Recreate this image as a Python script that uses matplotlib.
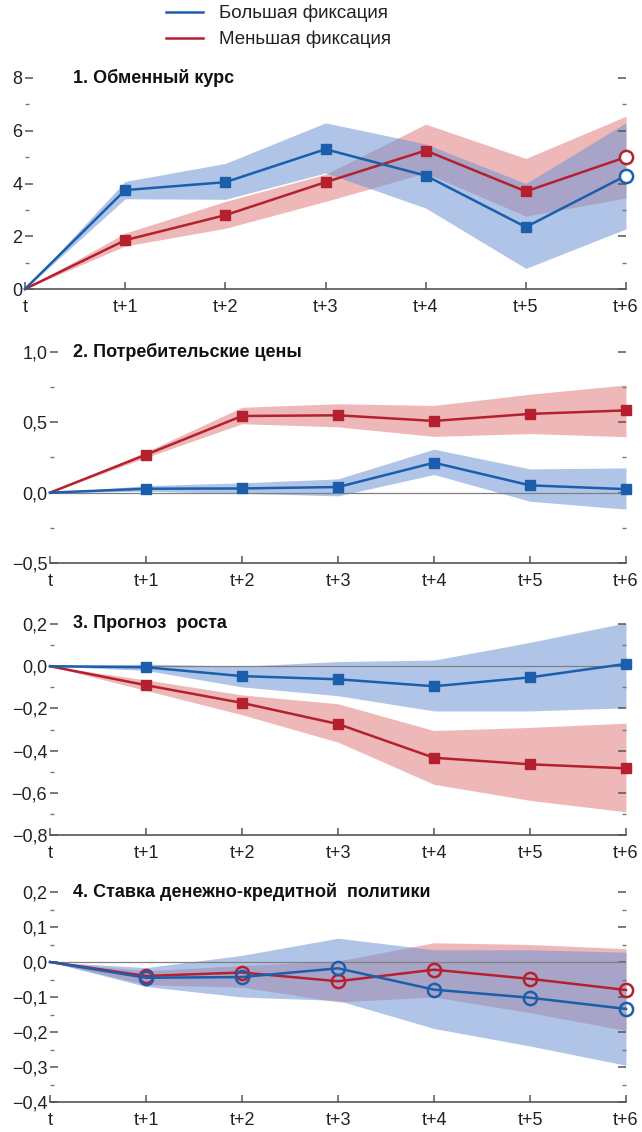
import numpy as np
import matplotlib as mpl
import matplotlib.pyplot as plt
from matplotlib import font_manager
from matplotlib.ticker import MultipleLocator, FuncFormatter

names = set(f.name for f in font_manager.fontManager.ttflist)
fam = 'Liberation Sans Narrow' if 'Liberation Sans Narrow' in names else 'Liberation Sans'
plt.rcParams['font.family'] = [fam, 'DejaVu Sans']

# data
steps = ['t', 't+1', 't+2', 't+3', 't+4', 't+5', 't+6']
legend_labels = ['Большая фиксация', 'Меньшая фиксация']
titles = ['1. Обменный курс', '2. Потребительские цены', '3. Прогноз  роста',
          '4. Ставка денежно-кредитной  политики']

# 1. exchange rate
fx_big = [0, 3.75, 4.05, 5.3, 4.3, 2.35, 4.3]
fx_big_hi = [0, 4.08, 4.76, 6.3, 5.5, 4.0, 6.3]
fx_big_lo = [0, 3.42, 3.4, 4.4, 3.07, 0.78, 2.28]
fx_small = [0, 1.85, 2.8, 4.05, 5.25, 3.7, 5.0]
fx_small_hi = [0, 2.12, 3.32, 4.35, 6.25, 4.95, 6.55]
fx_small_lo = [0, 1.63, 2.3, 3.32, 4.4, 2.76, 3.45]

# 2. consumer prices
cpi_big = [0, 0.028, 0.03, 0.04, 0.213, 0.052, 0.025]
cpi_big_hi = [0, 0.05, 0.07, 0.098, 0.309, 0.169, 0.176]
cpi_big_lo = [0, 0.01, -0.005, -0.023, 0.129, -0.061, -0.117]
cpi_small = [0, 0.27, 0.545, 0.55, 0.51, 0.56, 0.585]
cpi_small_hi = [0, 0.29, 0.607, 0.632, 0.62, 0.70, 0.766]
cpi_small_lo = [0, 0.25, 0.49, 0.468, 0.40, 0.42, 0.398]

# 3. growth forecast
gr_big = [0, -0.005, -0.047, -0.062, -0.095, -0.053, 0.011]
gr_big_hi = [0, 0.01, 0.0, 0.022, 0.029, 0.113, 0.206]
gr_big_lo = [0, -0.02, -0.098, -0.14, -0.212, -0.212, -0.197]
gr_small = [0, -0.09, -0.174, -0.274, -0.434, -0.465, -0.484]
gr_small_hi = [0, -0.065, -0.136, -0.178, -0.305, -0.29, -0.27]
gr_small_lo = [0, -0.115, -0.23, -0.36, -0.56, -0.636, -0.69]

# 4. policy rate
pr_big = [0, -0.045, -0.043, -0.018, -0.079, -0.102, -0.134]
pr_big_hi = [0, -0.016, 0.019, 0.068, 0.035, 0.035, 0.028]
pr_big_lo = [0, -0.07, -0.10, -0.11, -0.19, -0.24, -0.295]
pr_small = [0, -0.04, -0.03, -0.055, -0.022, -0.048, -0.08]
pr_small_hi = [0, -0.025, -0.01, 0.003, 0.055, 0.05, 0.038]
pr_small_lo = [0, -0.065, -0.072, -0.114, -0.10, -0.145, -0.196]

blue = '#1b5eab'
red = '#b5202e'
blue_fill = '#6f95d6'
red_fill = '#de7272'

W, H = 642, 1132
fig = plt.figure(figsize=(W / 100, H / 100), dpi=100)

# axes boxes in pixels: left, right, top, bottom
boxes = [(25, 626, 78, 289), (50, 626, 352, 563), (50, 626, 624, 835), (50, 626, 892, 1102)]
ylims = [(0, 8), (-0.5, 1.0), (-0.8, 0.2), (-0.4, 0.2)]
majors = [2, 0.5, 0.2, 0.1]

panels = [
    (fx_big, fx_big_lo, fx_big_hi, fx_small, fx_small_lo, fx_small_hi),
    (cpi_big, cpi_big_lo, cpi_big_hi, cpi_small, cpi_small_lo, cpi_small_hi),
    (gr_big, gr_big_lo, gr_big_hi, gr_small, gr_small_lo, gr_small_hi),
    (pr_big, pr_big_lo, pr_big_hi, pr_small, pr_small_lo, pr_small_hi),
]


def fmt(v, pos, dec):
    if abs(v) < 1e-9:
        v = 0.0
    s = ('{:.%df}' % dec).format(abs(v)).replace('.', ',')
    return ('\u2212' + s) if v < 0 else s


x = np.arange(len(steps))
for i, (l, r, t, b) in enumerate(boxes):
    ax = fig.add_axes([l / W, 1 - b / H, (r - l) / W, (b - t) / H])
    big, big_lo, big_hi, small, small_lo, small_hi = panels[i]

    ax.fill_between(x, small_lo, small_hi, color=red_fill, alpha=0.5, lw=0, zorder=1)
    ax.fill_between(x, big_lo, big_hi, color=blue_fill, alpha=0.55, lw=0, zorder=1)
    if i > 0:
        ax.axhline(0, color='#808080', lw=0.9, zorder=2)

    for ser, col in [(small, red), (big, blue)]:
        ax.plot(x, ser, color=col, lw=1.8, zorder=3, clip_on=False)
        if i == 3:
            ax.plot(x[1:], ser[1:], ls='none', marker='o', ms=9.5, mfc='none', mec=col,
                    mew=1.8, zorder=4, clip_on=False)
        elif i == 0:
            ax.plot(x[1:-1], ser[1:-1], ls='none', marker='s', ms=6.5, color=col,
                    zorder=4, clip_on=False)
            ax.plot(x[-1:], ser[-1:], ls='none', marker='o', ms=9.5, mfc='white', mec=col,
                    mew=1.8, zorder=4, clip_on=False)
        else:
            ax.plot(x[1:], ser[1:], ls='none', marker='s', ms=6.5, color=col,
                    zorder=4, clip_on=False)

    ax.set_xlim(0, 6)
    ax.set_ylim(*ylims[i])
    for s in ['top', 'left', 'right']:
        ax.spines[s].set_visible(False)
    ax.spines['bottom'].set_color('#555555')
    ax.spines['bottom'].set_linewidth(1.2)

    ax.set_xticks(x)
    ax.set_xticklabels(steps)
    ax.yaxis.set_major_locator(MultipleLocator(majors[i]))
    ax.yaxis.set_minor_locator(MultipleLocator(majors[i] / 2))
    dec = 0 if i == 0 else 1
    ax.yaxis.set_major_formatter(FuncFormatter(lambda v, p, d=dec: fmt(v, p, d)))
    ax.tick_params(axis='x', direction='in', length=5, width=1.1, color='#555555',
                   labelsize=13, pad=7, labelcolor='#222222')
    ax.tick_params(axis='y', which='major', direction='in', length=6, width=1.1,
                   color='#555555', left=True, right=True, labelsize=13, pad=2,
                   labelcolor='#222222')
    ax.tick_params(axis='y', which='minor', direction='in', length=3, width=1.0,
                   color='#777777', left=True, right=True)
    ax.patch.set_alpha(0)

    ax.annotate(titles[i], xy=(73 / W, ylims[i][1]), xycoords=('figure fraction', 'data'),
                va='center', ha='left', fontsize=13, fontweight='bold', color='#111111')

handles = [mpl.lines.Line2D([], [], color=blue, lw=1.8),
           mpl.lines.Line2D([], [], color=red, lw=1.8)]
fig.legend(handles, legend_labels, loc='upper left', bbox_to_anchor=(166 / W, 1 - 5 / H),
           frameon=False, fontsize=13.5, handlelength=1.95, handletextpad=0.9,
           labelspacing=0.45, borderpad=0, borderaxespad=0, labelcolor='#222222')

fig.savefig('out.png', dpi=100)
